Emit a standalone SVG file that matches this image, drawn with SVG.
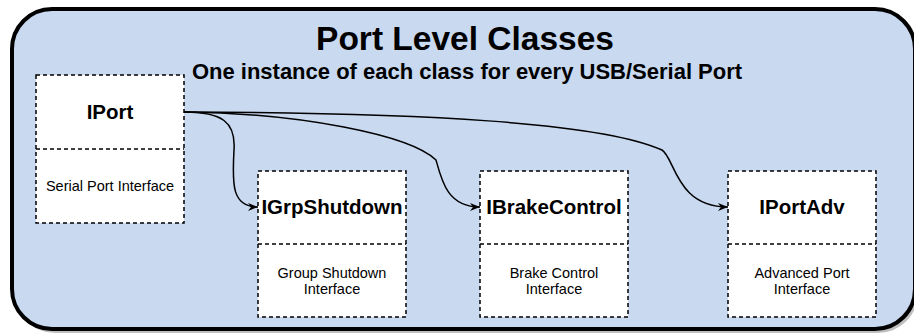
<svg xmlns="http://www.w3.org/2000/svg" width="914" height="334" viewBox="0 0 914 334">
  <style>
    text { font-family: "Liberation Sans", Arial, Helvetica, sans-serif; fill: #000; text-anchor: middle; }
    .title { font-size: 33.5px; font-weight: bold; }
    .subtitle { font-size: 22px; font-weight: bold; }
    .label { font-size: 20.5px; font-weight: bold; }
    .body { font-size: 14.5px; }
    .box { fill: #ffffff; stroke: #000; stroke-width: 1.5; stroke-dasharray: 4 3; }
    .div { fill: none; stroke: #000; stroke-width: 1.5; stroke-dasharray: 4 3; }
    .edge { fill: none; stroke: #000; stroke-width: 1.5; }
  </style>
  <defs>
    <marker id="arrow" markerUnits="userSpaceOnUse" viewBox="0 0 10 8" markerWidth="10" markerHeight="8" refX="10" refY="4" orient="auto">
      <path d="M0,0 L10,4 L0,8 L3,4 Z" fill="#000"/>
    </marker>
  </defs>

  <g id="container">
    <rect x="15" y="12" width="903" height="321" rx="40" ry="40" fill="#000" fill-opacity="0.25"/>
    <rect x="12" y="9" width="903" height="320" rx="40" ry="40" fill="#c8d9f0" stroke="#000" stroke-width="4"/>
    <text class="title" x="465" y="50">Port Level Classes</text>
    <text class="subtitle" x="467" y="79">One instance of each class for every USB/Serial Port</text>
  </g>

  <g id="IPort">
    <rect class="box" x="36" y="75" width="148" height="148"/>
    <line class="div" x1="36" y1="149" x2="184" y2="149"/>
    <text class="label" x="110" y="119">IPort</text>
    <text class="body" x="110" y="191">Serial Port Interface</text>
  </g>

  <g id="IGrpShutdown">
    <rect class="box" x="258" y="171" width="148" height="146"/>
    <line class="div" x1="258" y1="244" x2="406" y2="244"/>
    <text class="label" x="332" y="214">IGrpShutdown</text>
    <text class="body" x="332" y="278">Group Shutdown</text>
    <text class="body" x="332" y="294">Interface</text>
  </g>

  <g id="IBrakeControl">
    <rect class="box" x="480" y="171" width="148" height="146"/>
    <line class="div" x1="480" y1="244" x2="628" y2="244"/>
    <text class="label" x="554" y="214">IBrakeControl</text>
    <text class="body" x="554" y="278">Brake Control</text>
    <text class="body" x="554" y="294">Interface</text>
  </g>

  <g id="IPortAdv">
    <rect class="box" x="728" y="171" width="148" height="146"/>
    <line class="div" x1="728" y1="244" x2="876" y2="244"/>
    <text class="label" x="802" y="214">IPortAdv</text>
    <text class="body" x="802" y="278">Advanced Port</text>
    <text class="body" x="802" y="294">Interface</text>
  </g>

  <g id="connectors">
    <path class="edge" marker-end="url(#arrow)" d="M184,112 C222,112 236,122 234,150 C232,185 232,207 258,207"/>
    <path class="edge" marker-end="url(#arrow)" d="M184,112 C300,113 410,135 436,160 C442,182 448,207 480,207"/>
    <path class="edge" marker-end="url(#arrow)" d="M184,112 C420,113 600,122 662,150 C675,158 676,207 728,207"/>
  </g>
</svg>
